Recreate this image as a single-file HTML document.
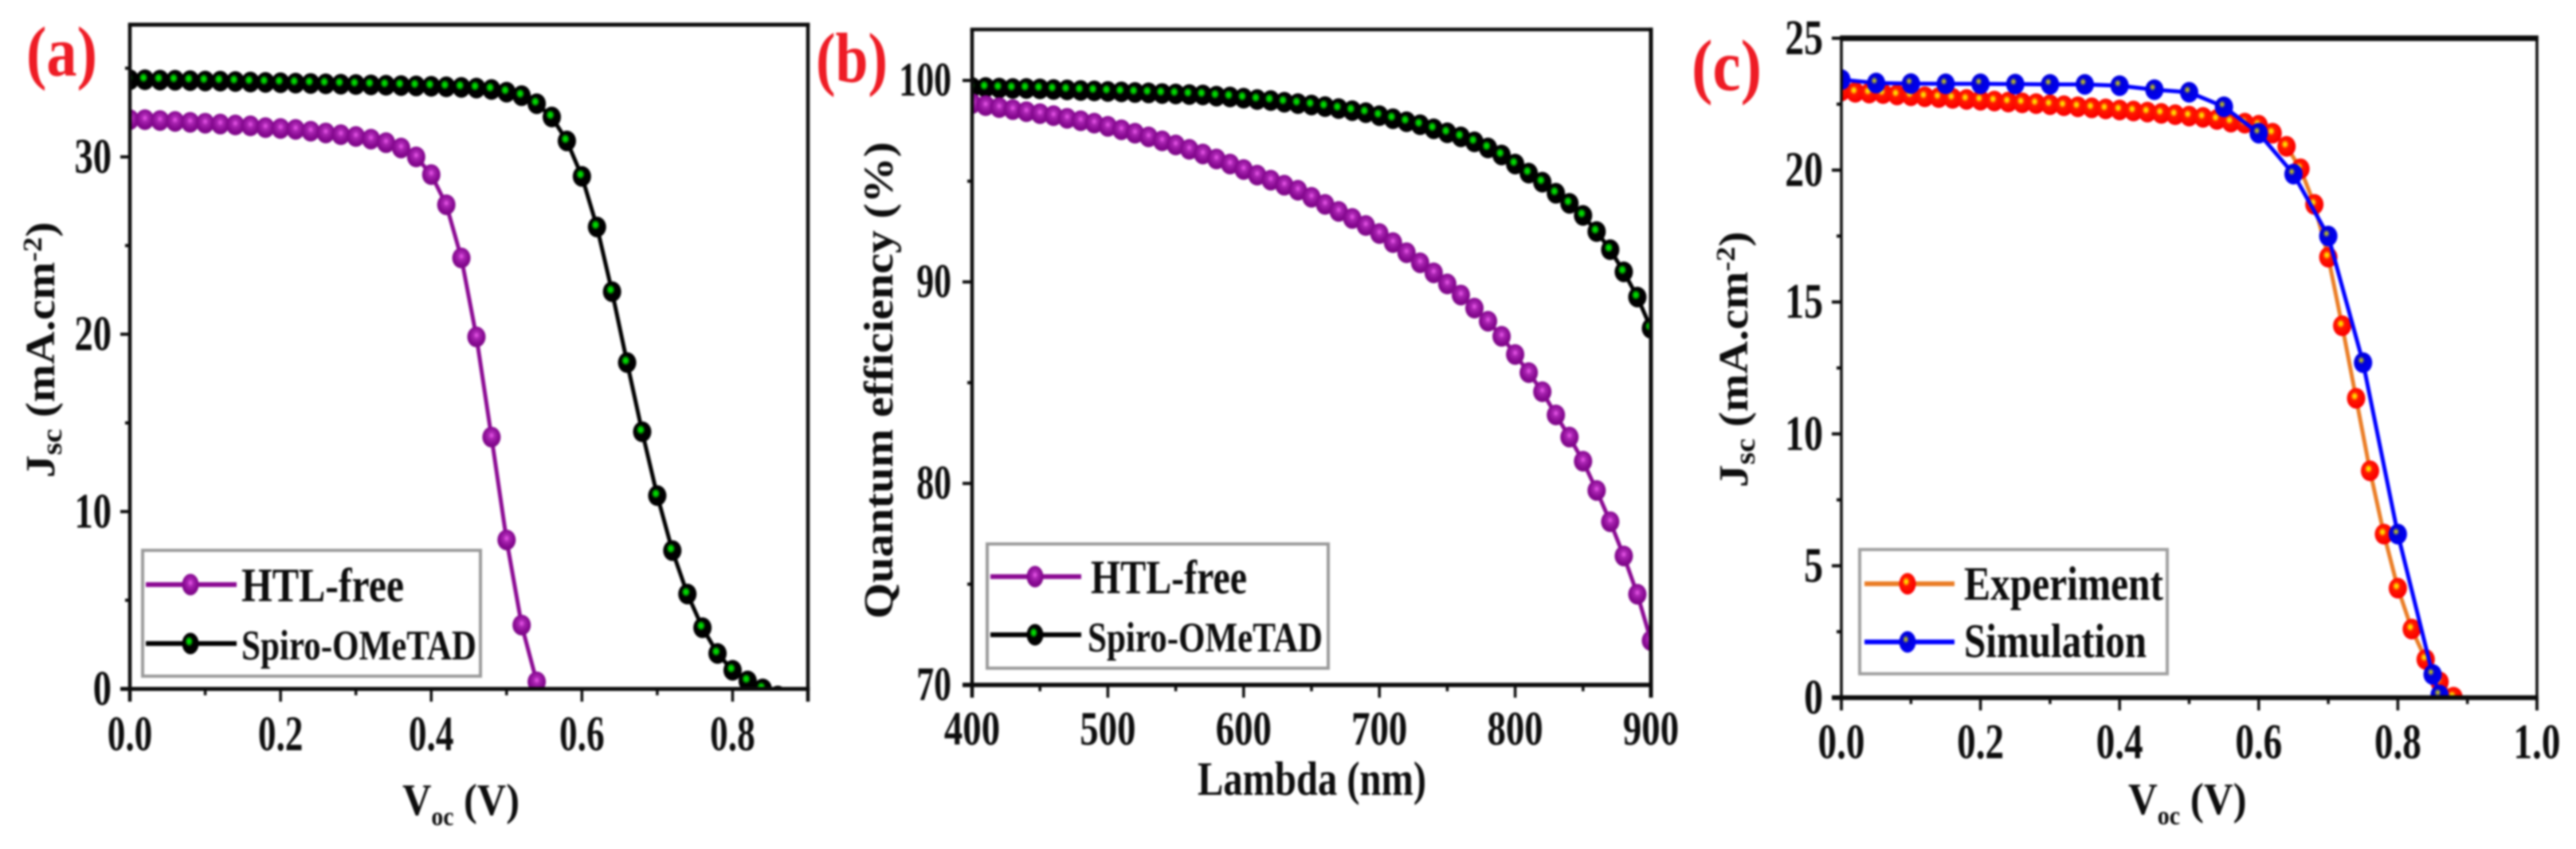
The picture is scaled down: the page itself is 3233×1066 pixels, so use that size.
<!DOCTYPE html>
<html lang="en">
<head>
<meta charset="utf-8">
<title>Solar cell J-V and quantum efficiency panels</title>
<style>
html,body{margin:0;padding:0;background:#fff;width:3233px;height:1066px;overflow:hidden}
svg{display:block;filter:blur(1.2px)}
text{font-family:"Liberation Serif",serif;font-weight:700;fill:#0d0d0d}
.panel-letter{fill:#ee1c25}
</style>
</head>
<body>
<svg id="figure" xmlns="http://www.w3.org/2000/svg" width="3233" height="1066" viewBox="0 0 3233 1066">
  <defs>
    <radialGradient id="g-purple" cx="0.5" cy="0.42" r="0.55"><stop offset="0" stop-color="#ec5aec"/><stop offset="0.32" stop-color="#a824b0"/><stop offset="0.72" stop-color="#880a92"/><stop offset="1" stop-color="#7e0888"/></radialGradient>
    <radialGradient id="g-green" cx="0.42" cy="0.4" r="0.55"><stop offset="0" stop-color="#00f000"/><stop offset="0.22" stop-color="#00c000"/><stop offset="0.44" stop-color="#000"/><stop offset="1" stop-color="#000"/></radialGradient>
    <radialGradient id="g-red" cx="0.42" cy="0.4" r="0.55"><stop offset="0" stop-color="#fff000"/><stop offset="0.16" stop-color="#ffc800"/><stop offset="0.38" stop-color="#ff1800"/><stop offset="1" stop-color="#fa0000"/></radialGradient>
    <radialGradient id="g-blue" cx="0.4" cy="0.38" r="0.55"><stop offset="0" stop-color="#d8d820"/><stop offset="0.14" stop-color="#9a9a40"/><stop offset="0.34" stop-color="#0000d8"/><stop offset="1" stop-color="#0000f0"/></radialGradient>
  </defs>

  <g id="layer-a"></g>
  <g id="layer-b"></g>
  <g id="layer-c"></g>

  <text class="panel-letter" x="33" y="95" font-size="89" textLength="89" lengthAdjust="spacingAndGlyphs">(a)</text>
  <text class="panel-letter" x="1024" y="103" font-size="89" textLength="90" lengthAdjust="spacingAndGlyphs">(b)</text>
  <text class="panel-letter" x="2123" y="113" font-size="91" textLength="88" lengthAdjust="spacingAndGlyphs">(c)</text>

  <text transform="translate(68,600) rotate(-90) scale(1.1,1)" font-size="52">J<tspan font-size="36" dy="9">sc</tspan><tspan dy="-9"> (mA.cm</tspan><tspan font-size="34" dy="-16">-2</tspan><tspan dy="16">)</tspan></text>
  <text transform="translate(505,1023) scale(0.9,1)" font-size="56">V<tspan font-size="33" dy="13">oc</tspan><tspan dy="-13"> (V)</tspan></text>
  <text transform="translate(1120,777) rotate(-90)" font-size="52" textLength="599" lengthAdjust="spacingAndGlyphs">Quantum efficiency (%)</text>
  <text x="1503" y="998" font-size="60" textLength="287" lengthAdjust="spacingAndGlyphs">Lambda (nm)</text>
  <text transform="translate(2193,612) rotate(-90) scale(1.1,1)" font-size="52">J<tspan font-size="36" dy="9">sc</tspan><tspan dy="-9"> (mA.cm</tspan><tspan font-size="34" dy="-16">-2</tspan><tspan dy="16">)</tspan></text>
  <text transform="translate(2671,1022) scale(0.91,1)" font-size="56">V<tspan font-size="33" dy="13">oc</tspan><tspan dy="-13"> (V)</tspan></text>

  <g>
    <rect x="179" y="691" width="424" height="158" fill="#fff" stroke="#9a9a9a" stroke-width="4"/>
    <g>
      <line x1="183" x2="297" y1="734" y2="734" stroke="#8b0a93" stroke-width="6"/>
      <ellipse cx="239" cy="734" rx="10.5" ry="13.5" fill="url(#g-purple)"/>
      <text x="303" y="755" font-size="60" textLength="204" lengthAdjust="spacingAndGlyphs">HTL-free</text>
    </g>
    <g>
      <line x1="183" x2="297" y1="808" y2="808" stroke="#000" stroke-width="6"/>
      <ellipse cx="239" cy="808" rx="10.5" ry="13.5" fill="url(#g-green)"/>
      <text x="303" y="828" font-size="53" textLength="295" lengthAdjust="spacingAndGlyphs">Spiro-OMeTAD</text>
    </g>
  </g>
  <g>
    <rect x="1239" y="683" width="428" height="156" fill="#fff" stroke="#9a9a9a" stroke-width="4"/>
    <g>
      <line x1="1243" x2="1357" y1="724" y2="724" stroke="#8b0a93" stroke-width="6"/>
      <ellipse cx="1299" cy="724" rx="10.5" ry="13.5" fill="url(#g-purple)"/>
      <text x="1369" y="745" font-size="60" textLength="196" lengthAdjust="spacingAndGlyphs">HTL-free</text>
    </g>
    <g>
      <line x1="1243" x2="1357" y1="797" y2="797" stroke="#000" stroke-width="6"/>
      <ellipse cx="1299" cy="797" rx="10.5" ry="13.5" fill="url(#g-green)"/>
      <text x="1365" y="818" font-size="53" textLength="295" lengthAdjust="spacingAndGlyphs">Spiro-OMeTAD</text>
    </g>
  </g>
  <g>
    <rect x="2334" y="690" width="386" height="156" fill="#fff" stroke="#a0a0a0" stroke-width="4"/>
    <g>
      <line x1="2340" x2="2453" y1="733" y2="733" stroke="#ea7d26" stroke-width="6"/>
      <ellipse cx="2394" cy="733" rx="10.5" ry="13.5" fill="url(#g-red)"/>
      <text x="2465" y="753" font-size="60" textLength="250" lengthAdjust="spacingAndGlyphs">Experiment</text>
    </g>
    <g>
      <line x1="2340" x2="2453" y1="806" y2="806" stroke="#0000ff" stroke-width="6"/>
      <ellipse cx="2394" cy="806" rx="10.5" ry="13.5" fill="url(#g-blue)"/>
      <text x="2465" y="825" font-size="60" textLength="229" lengthAdjust="spacingAndGlyphs">Simulation</text>
    </g>
  </g>
</svg>

<script>
// ---- Panel (a) data ----
const voltageSweep = [0,0.02,0.04,0.06,0.08,0.10,0.12,0.14,0.16,0.18,0.20,0.22,0.24,0.26,0.28,0.30,0.32,0.34,0.36,0.38,0.40,0.42,0.44,0.46,0.48,0.50,0.52,0.54,0.56,0.58,0.60,0.62,0.64,0.66,0.68,0.70,0.72,0.74,0.76,0.78,0.80,0.82,0.84,0.86,0.88,0.90];
const htlFreeJsc = [32.1,32.1,32.05,32.0,31.95,31.9,31.85,31.8,31.75,31.65,31.6,31.55,31.45,31.35,31.25,31.15,31.0,30.8,30.5,30.0,29.0,27.3,24.3,19.85,14.2,8.4,3.6,0.4];
const spiroJsc = [34.35,34.35,34.33,34.32,34.3,34.28,34.27,34.25,34.22,34.2,34.18,34.16,34.14,34.12,34.1,34.08,34.06,34.04,34.02,34.0,33.98,33.95,33.92,33.88,33.8,33.65,33.45,33.0,32.25,30.9,28.9,26.05,22.4,18.4,14.5,10.9,7.8,5.35,3.45,2.0,1.05,0.45,0.0,-0.4];
const aXMajor = [0,0.2,0.4,0.6,0.8];
const aXMinor = [0.1,0.3,0.5,0.7,0.9];
const aXLabels = ['0.0','0.2','0.4','0.6','0.8'];
const aYMajor = [0,10,20,30];
const aYMinor = [5,15,25,35];
const aYLabels = ['0','10','20','30'];

// ---- Panel (b) data ----
const wavelengths = [400,410,420,430,440,450,460,470,480,490,500,510,520,530,540,550,560,570,580,590,600,610,620,630,640,650,660,670,680,690,700,710,720,730,740,750,760,770,780,790,800,810,820,830,840,850,860,870,880,890,900];
const htlFreeQE = [98.85,98.75,98.65,98.55,98.45,98.35,98.25,98.12,98.0,97.88,97.72,97.55,97.38,97.2,97.0,96.8,96.58,96.35,96.1,95.85,95.58,95.3,95.05,94.8,94.55,94.2,93.85,93.5,93.15,92.8,92.4,91.95,91.45,90.95,90.45,89.9,89.35,88.7,88.05,87.3,86.4,85.5,84.55,83.4,82.3,81.1,79.65,78.1,76.4,74.5,72.2];
const spiroQE = [99.65,99.65,99.62,99.6,99.6,99.58,99.55,99.53,99.5,99.48,99.45,99.43,99.4,99.38,99.35,99.33,99.3,99.28,99.22,99.18,99.12,99.05,99.0,98.92,98.85,98.78,98.7,98.6,98.5,98.4,98.25,98.1,97.95,97.8,97.6,97.4,97.2,96.95,96.65,96.3,95.85,95.4,94.95,94.4,93.9,93.3,92.5,91.6,90.5,89.25,87.7];
const bXMajor = [400,500,600,700,800,900];
const bXMinor = [450,550,650,750,850];
const bXLabels = ['400','500','600','700','800','900'];
const bYMajor = [70,80,90,100];
const bYMinor = [75,85,95];
const bYLabels = ['70','80','90','100'];

// ---- Panel (c) data ----
const experimentJsc = [23.0,22.95,22.92,22.9,22.85,22.82,22.78,22.75,22.72,22.68,22.65,22.62,22.58,22.55,22.52,22.48,22.44,22.4,22.36,22.32,22.28,22.24,22.2,22.15,22.1,22.05,22.0,21.92,21.82,21.78,21.7,21.4,20.9,20.05,18.7,16.7,14.1,11.35,8.6,6.2,4.15,2.6,1.45,0.6,0.02,-0.3];
const simulationVoc = [0,0.05,0.10,0.15,0.20,0.25,0.30,0.35,0.40,0.45,0.50,0.55,0.60,0.65,0.70,0.75,0.80,0.85,0.86];
const simulationJsc = [23.43,23.3,23.28,23.27,23.27,23.26,23.25,23.25,23.2,23.05,22.95,22.4,21.4,19.85,17.5,12.7,6.2,0.88,0.1];
const cXMajor = [0,0.2,0.4,0.6,0.8,1.0];
const cXMinor = [0.1,0.3,0.5,0.7,0.9];
const cXLabels = ['0.0','0.2','0.4','0.6','0.8','1.0'];
const cYMajor = [0,5,10,15,20,25];
const cYMinor = [2.5,7.5,12.5,17.5,22.5];
const cYLabels = ['0','5','10','15','20','25'];

const NS = 'http://www.w3.org/2000/svg';
function make(tag, attrs, parent) {
  const node = document.createElementNS(NS, tag);
  for (const k in attrs) node.setAttribute(k, attrs[k]);
  parent.appendChild(node);
  return node;
}
function scale(d0, d1, r0, r1) {
  return v => r0 + (v - d0) / (d1 - d0) * (r1 - r0);
}

function drawSeries(group, clipId, xs, ys, sx, sy, color, gradient, name) {
  const series = make('g', {'clip-path': 'url(#' + clipId + ')'}, group);
  
  
  const n = Math.min(xs.length, ys.length);
  let pts = '';
  for (let i = 0; i < n; i++) pts += sx(xs[i]) + ',' + sy(ys[i]) + ' ';
  const line = make('polyline', {points: pts, fill: 'none', stroke: color, 'stroke-width': 5}, series);
  
  
  for (let i = 0; i < n; i++) {
    const dot = make('ellipse', {cx: sx(xs[i]), cy: sy(ys[i]), rx: 11.5, ry: 13, fill: 'url(#' + gradient + ')'}, series);
    
    
  }
}

function drawAxes(group, g, sx, sy, xMajor, xMinor, xLabels, yMajor, yMinor, yLabels) {
  const ink = '#0b0b0b';
  const frame = make('g', {}, group);
  
  
  make('line', {x1: g.left, x2: g.left, y1: g.top, y2: g.bottom + 16, stroke: ink, 'stroke-width': g.wLeft}, frame);
  make('line', {x1: g.right, x2: g.right, y1: g.top - g.wTop / 2, y2: g.bottom + 16, stroke: g.rightInk || ink, 'stroke-width': g.wRight}, frame);
  make('line', {x1: g.left - g.wLeft / 2, x2: g.right + g.wRight / 2, y1: g.top, y2: g.top, stroke: ink, 'stroke-width': g.wTop}, frame);
  make('line', {x1: g.left - 12, x2: g.right + g.wRight / 2, y1: g.bottom, y2: g.bottom, stroke: ink, 'stroke-width': g.wBottom}, frame);

  xMajor.forEach((v, i) => {
    const px = sx(v);
    make('line', {x1: px, x2: px, y1: g.bottom, y2: g.bottom + 16, stroke: ink, 'stroke-width': 3.5}, frame);
    const label = make('text', {transform: 'translate(' + px + ',' + g.xLabelBase + ') scale(' + g.xStretch + ',1)', 'text-anchor': 'middle', 'font-size': g.labelSize}, group);
    
    
    label.textContent = xLabels[i];
  });
  xMinor.forEach(v => {
    const px = sx(v);
    make('line', {x1: px, x2: px, y1: g.bottom, y2: g.bottom + 8, stroke: ink, 'stroke-width': 3.5}, frame);
  });
  yMajor.forEach((v, i) => {
    const py = sy(v);
    make('line', {x1: g.left - 12, x2: g.left, y1: py, y2: py, stroke: ink, 'stroke-width': 4}, frame);
    const label = make('text', {transform: 'translate(' + g.yLabelRight + ',' + (py + g.yLabelDrop) + ') scale(' + g.yStretch + ',1)', 'text-anchor': 'end', 'font-size': g.labelSize}, group);
    
    
    label.textContent = yLabels[i];
  });
  yMinor.forEach(v => {
    const py = sy(v);
    make('line', {x1: g.left - 6, x2: g.left, y1: py, y2: py, stroke: ink, 'stroke-width': 4}, frame);
  });
}

function clip(id, g) {
  const defs = document.querySelector('#figure defs');
  const cp = make('clipPath', {id: id}, defs);
  make('rect', {x: g.left, y: g.top, width: g.right - g.left, height: g.bottom - g.top}, cp);
}

// Panel a
const geoA = {id: 'panel-a', left: 163, right: 1014, top: 31, bottom: 865, wLeft: 4.5, wRight: 4.5, wTop: 5, wBottom: 5, xLabelBase: 942, yLabelRight: 140, yLabelDrop: 20, labelSize: 62, xStretch: 0.73, yStretch: 0.75};
const ax = scale(0, 0.9, 163, 1014);
const ay = scale(0, 30, 865, 197);
clip('clip-a', geoA);
const layerA = document.getElementById('layer-a');
drawSeries(layerA, 'clip-a', voltageSweep, spiroJsc, ax, ay, '#000000', 'g-green', 'series-spiro-jv');
drawSeries(layerA, 'clip-a', voltageSweep, htlFreeJsc, ax, ay, '#8b0a93', 'g-purple', 'series-htl-free-jv');
drawAxes(layerA, geoA, ax, ay, aXMajor, aXMinor, aXLabels, aYMajor, aYMinor, aYLabels);

// Panel b
const geoB = {id: 'panel-b', left: 1220, right: 2072, top: 37, bottom: 860, wLeft: 4.5, wRight: 5, wTop: 4.5, wBottom: 5.5, xLabelBase: 935, yLabelRight: 1194, yLabelDrop: 19, labelSize: 60, xStretch: 0.78, yStretch: 0.73};
const bx = scale(400, 900, 1220, 2072);
const by = scale(70, 100, 860, 101);
clip('clip-b', geoB);
const layerB = document.getElementById('layer-b');
drawSeries(layerB, 'clip-b', wavelengths, spiroQE, bx, by, '#000000', 'g-green', 'series-spiro-qe');
drawSeries(layerB, 'clip-b', wavelengths, htlFreeQE, bx, by, '#8b0a93', 'g-purple', 'series-htl-free-qe');
drawAxes(layerB, geoB, bx, by, bXMajor, bXMinor, bXLabels, bYMajor, bYMinor, bYLabels);

// Panel c
const geoC = {id: 'panel-c', left: 2311, right: 3184, top: 48, bottom: 876, wLeft: 3.5, wRight: 3.5, wTop: 7, wBottom: 6, xLabelBase: 952, yLabelRight: 2288, yLabelDrop: 20, labelSize: 62, xStretch: 0.76, yStretch: 0.77};
const cx = scale(0, 1, 2311, 3184);
const cy = scale(0, 25, 876, 48);
clip('clip-c', geoC);
const layerC = document.getElementById('layer-c');
drawSeries(layerC, 'clip-c', voltageSweep, experimentJsc, cx, cy, '#ea7d26', 'g-red', 'series-experiment');
drawSeries(layerC, 'clip-c', simulationVoc, simulationJsc, cx, cy, '#0000ff', 'g-blue', 'series-simulation');
drawAxes(layerC, geoC, cx, cy, cXMajor, cXMinor, cXLabels, cYMajor, cYMinor, cYLabels);
</script>
</body>
</html>
